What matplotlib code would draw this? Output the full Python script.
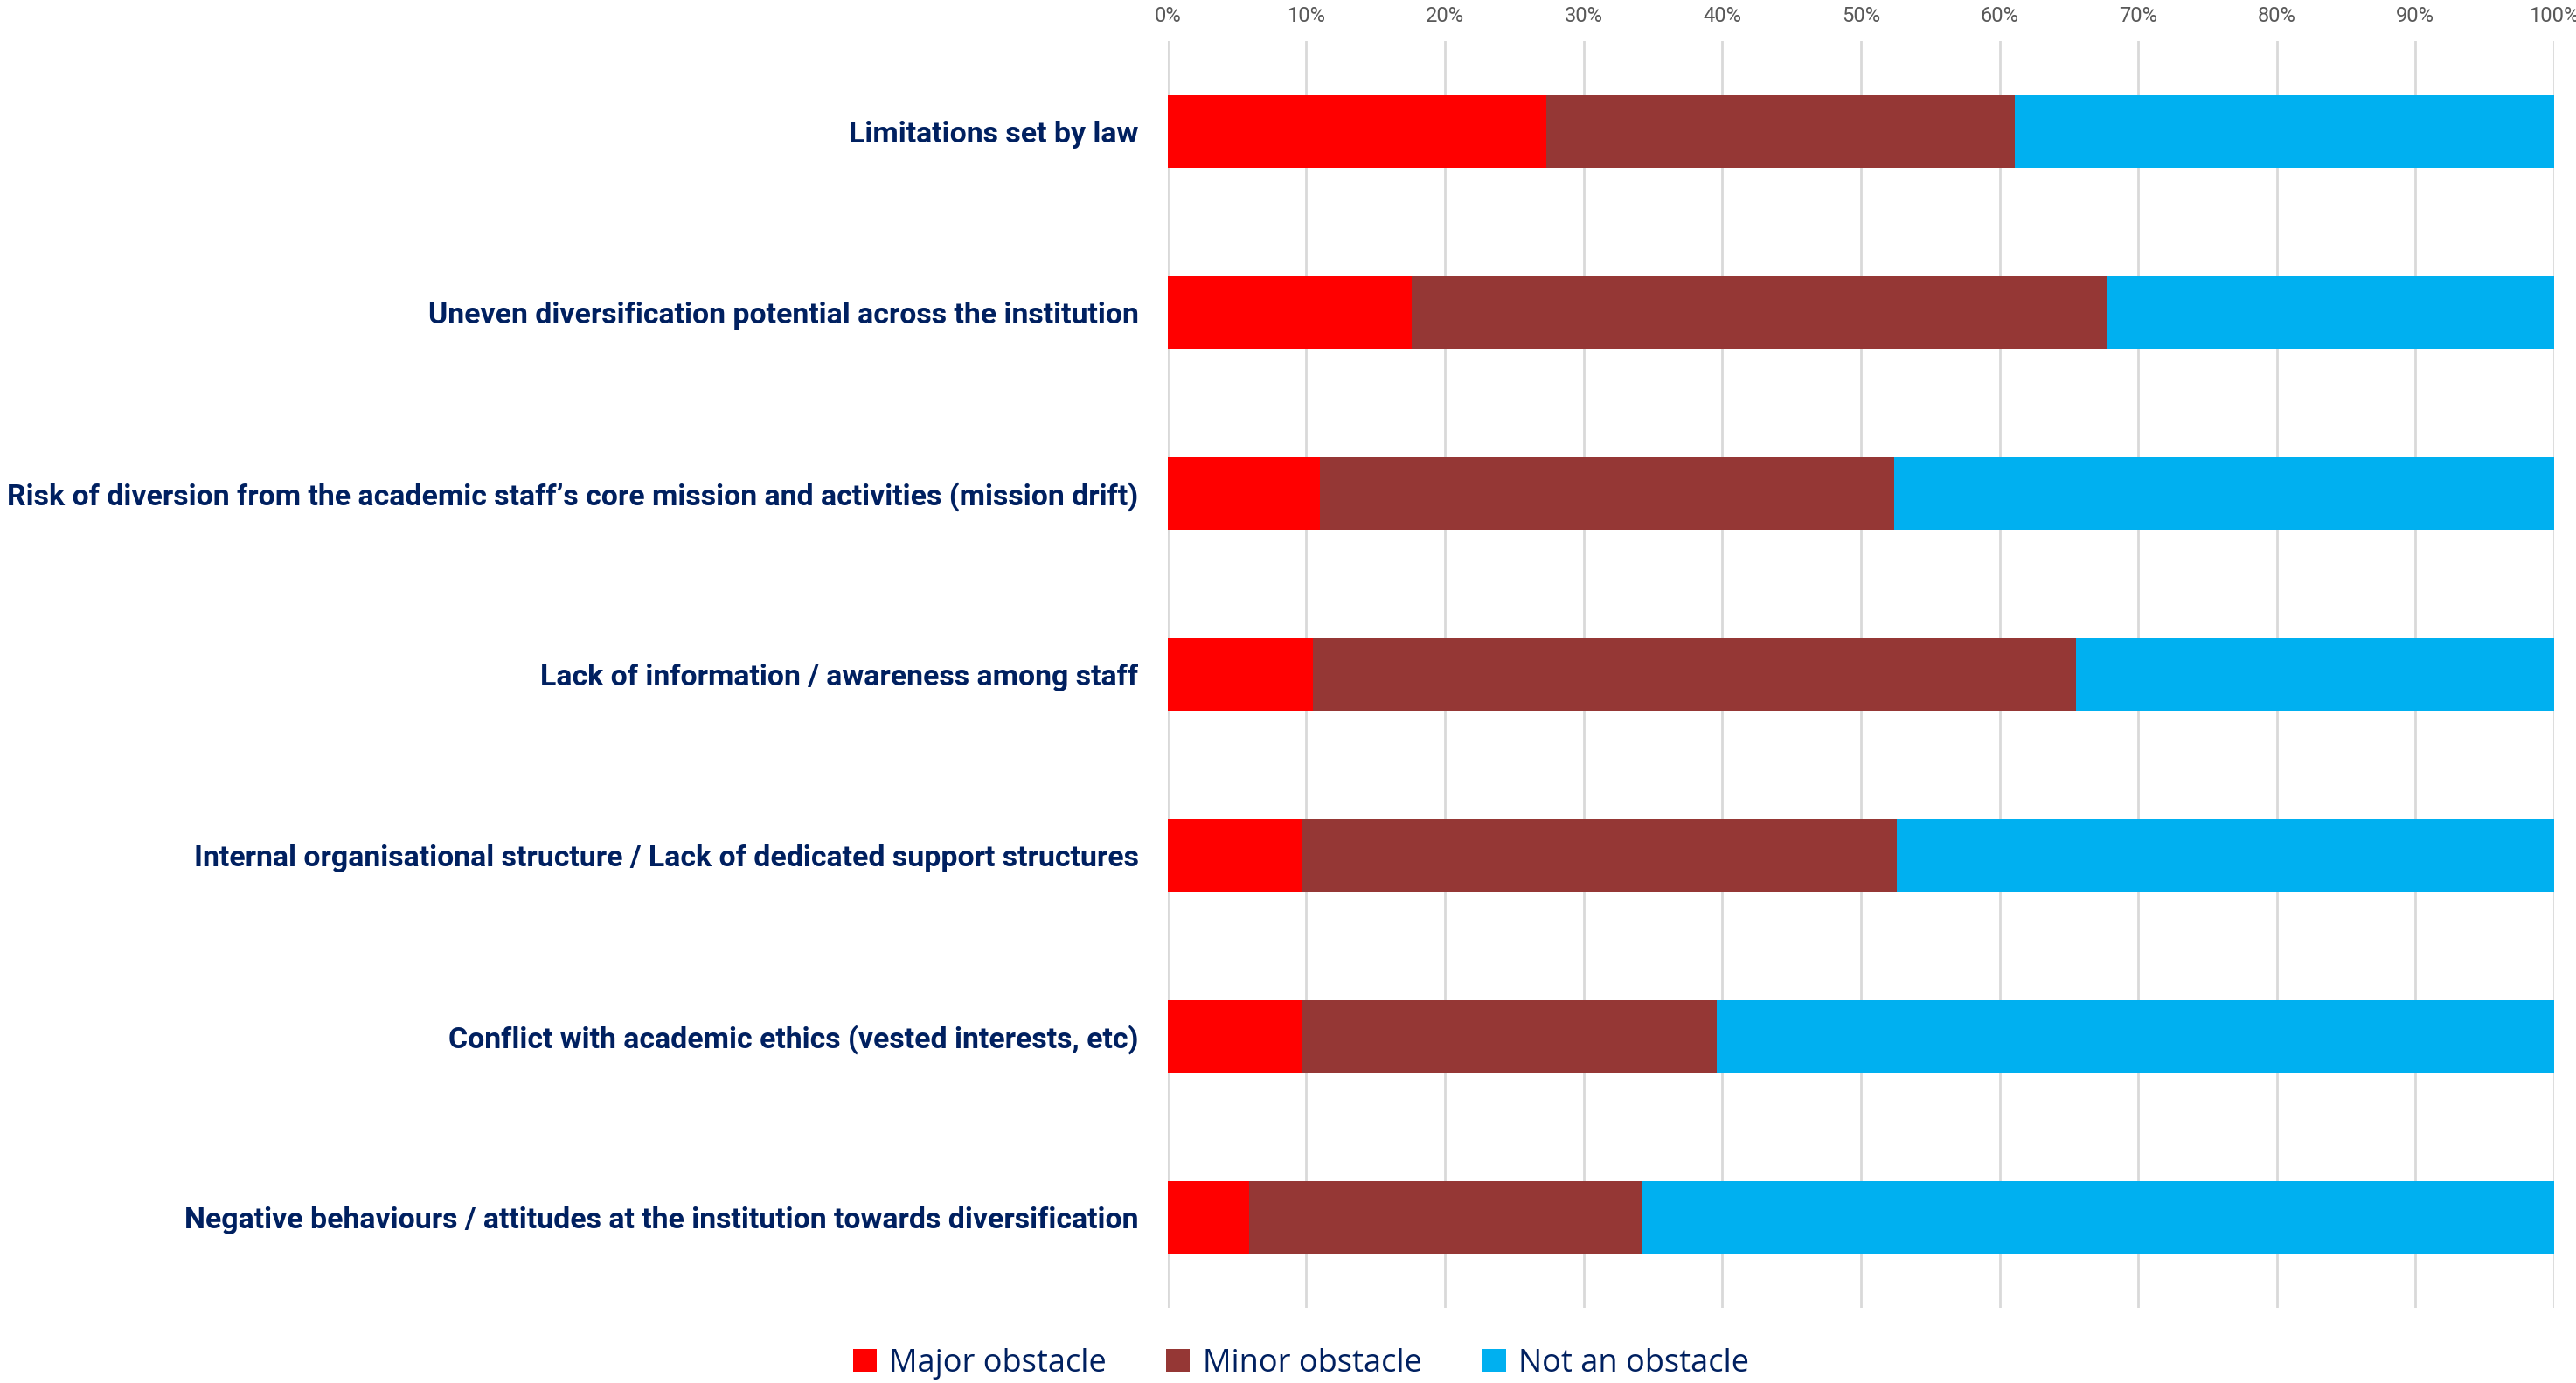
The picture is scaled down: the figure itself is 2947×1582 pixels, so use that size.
import numpy as np
import matplotlib.pyplot as plt
from matplotlib.patches import Patch
from matplotlib.ticker import PercentFormatter

# obstacles to diversification, share of answers (%)
categories = [
    "Limitations set by law",
    "Uneven diversification potential across the institution",
    "Risk of diversion from the academic staff\u2019s core mission and activities (mission drift)",
    "Lack of information / awareness among staff",
    "Internal organisational structure / Lack of dedicated support structures",
    "Conflict with academic ethics (vested interests, etc)",
    "Negative behaviours / attitudes at the institution towards diversification",
]
major = [27.3, 17.6, 11.0, 10.5, 9.7, 9.7, 5.9]
minor = [33.8, 50.1, 41.4, 55.0, 42.9, 29.9, 28.3]
not_obstacle = [100 - a - b for a, b in zip(major, minor)]

series = ["Major obstacle", "Minor obstacle", "Not an obstacle"]
colors = ["#FF0000", "#953735", "#00B0F0"]

NAVY = "#002060"

fig = plt.figure(figsize=(14.735, 7.91), dpi=200)
ax = fig.add_axes([0.4533, 0.0545, 0.5382, 0.916])

y = np.arange(len(categories))
left = np.zeros(len(categories))
for vals, col in zip([major, minor, not_obstacle], colors):
    ax.barh(y, vals, left=left, height=0.4, color=col, zorder=3)
    left += np.array(vals)

ax.set_xlim(0, 100)
ax.set_ylim(len(categories) - 0.5, -0.5)
ax.set_xticks(np.arange(0, 101, 10))
ax.xaxis.set_major_formatter(PercentFormatter(decimals=0))
ax.xaxis.tick_top()
ax.tick_params(axis="x", length=0, pad=6, labelsize=8.5, labelcolor="#595959")
ax.tick_params(axis="y", length=0, pad=12)
for lbl in ax.get_xticklabels():
    lbl.set_family("Roboto")

ax.set_yticks(y)
ax.set_yticklabels(categories, fontsize=12.2, fontweight="bold", color=NAVY, family="Roboto")

ax.grid(axis="x", color="#D9D9D9", linewidth=1.0, zorder=0)
for s in ax.spines.values():
    s.set_visible(False)

handles = [Patch(facecolor=c, label=s) for s, c in zip(series, colors)]
fig.legend(handles=handles, loc="center", bbox_to_anchor=(0.505, 0.014), ncol=3,
           frameon=False, handlelength=0.75, handleheight=0.75, handletextpad=0.4,
           columnspacing=1.9, prop={"family": "Open Sans", "size": 13}, labelcolor=NAVY)

fig.savefig("out.png", dpi=200)
